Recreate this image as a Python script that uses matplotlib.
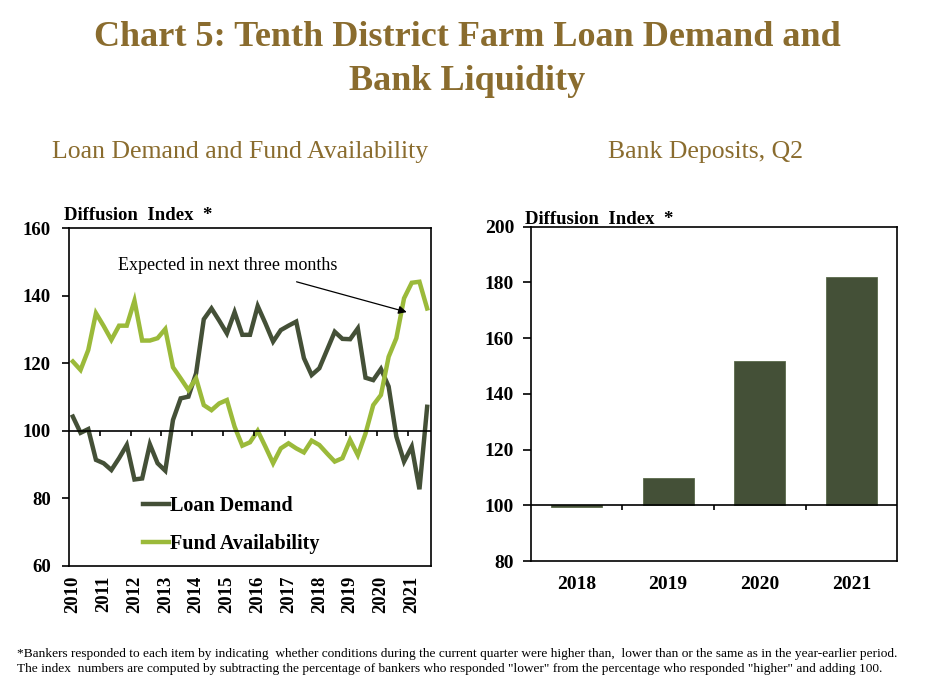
import numpy as np
import matplotlib
matplotlib.use("Agg")
import matplotlib.pyplot as plt
from matplotlib.lines import Line2D

plt.rcParams["font.family"] = ["Liberation Serif", "DejaVu Serif"]

# ── data ──────────────────────────────────────────────────────────────────────
QUARTERS = [f"{y}Q{q}" for y in range(2010, 2022) for q in (1, 2, 3, 4)][:47]   # 2010Q1..2021Q3 (last = expected)
YEAR_LABELS = [str(y) for y in range(2010, 2022)]

loan_demand = [104.2, 99.4, 100.5, 91.4, 90.4, 88.4, 91.9, 95.8, 85.6, 85.9,
               96.0, 90.4, 88.2, 103.2, 109.6, 110.1, 117.0, 133.0, 136.2, 132.6,
               128.8, 135.1, 128.4, 128.4, 136.9, 131.8, 126.4, 129.8, 131.1, 132.3,
               121.5, 116.5, 118.5, 123.9, 129.3, 127.2, 127.1, 130.3, 115.7, 115.0,
               118.3, 113.1, 98.3, 90.9, 95.3, 82.7, 107.1]
fund_avail = [120.5, 118.0, 123.9, 134.8, 131.0, 126.9, 131.1, 131.1, 138.5, 126.7,
              126.7, 127.4, 130.1, 118.8, 115.5, 112.1, 115.5, 107.6, 106.1, 108.1,
              109.1, 101.2, 95.6, 96.6, 100.0, 95.3, 90.4, 94.8, 96.3, 94.8,
              93.6, 97.1, 95.8, 93.3, 90.9, 91.9, 97.3, 92.8, 99.2, 107.6,
              110.6, 121.9, 127.4, 139.2, 143.8, 144.1, 136.2]

dep_years = ["2018", "2019", "2020", "2021"]
dep_index = [99.5, 109.7, 151.7, 181.8]

DARK = "#445037"
LIGHT = "#9BBA3A"
GOLD = "#8A6C2E"
W, H = 925, 693

fig = plt.figure(figsize=(W / 100, H / 100), dpi=100)


def fx(px):
    return px / W


def fy(py):
    return 1 - py / H


# ── titles ────────────────────────────────────────────────────────────────────
fig.text(fx(467), fy(38), "Chart 5: Tenth District Farm Loan Demand and", ha="center", va="center",
         fontsize=26, fontweight="bold", color=GOLD)
fig.text(fx(467), fy(82), "Bank Liquidity", ha="center", va="center",
         fontsize=26, fontweight="bold", color=GOLD)
fig.text(fx(240), fy(152), "Loan Demand and Fund Availability", ha="center", va="center",
         fontsize=18.5, color=GOLD)
fig.text(fx(705), fy(152), "Bank Deposits, Q2", ha="center", va="center",
         fontsize=18.5, color=GOLD)


def frame(ax, lw=1.2):
    for s in ax.spines.values():
        s.set_linewidth(lw)
        s.set_color("black")


# ── left: loan demand and fund availability ─────────────────────────────────────
ax = fig.add_axes([fx(69), fy(566), fx(431 - 69), (566 - 228) / H])
x = np.arange(len(QUARTERS))
ax.plot(x, loan_demand, color=DARK, lw=3.2, solid_joinstyle="miter")
ax.plot(x, fund_avail, color=LIGHT, lw=3.2, solid_joinstyle="miter")
ax.axhline(100, color="black", lw=1.2)
ax.vlines(np.arange(3.5, len(QUARTERS), 4), 98.4, 100, color="black", lw=1.2)
ax.set_xlim(-0.5, len(QUARTERS) - 0.5)
ax.set_ylim(60, 160)
ax.set_yticks(range(60, 161, 20))
ax.set_xticks(np.arange(0, len(QUARTERS), 4))
ax.set_xticklabels(YEAR_LABELS, rotation=90, fontsize=13.5, fontweight="bold")
ax.tick_params(axis="x", length=0, pad=7)
ax.tick_params(axis="y", direction="out", length=5, width=1.2, pad=8, labelsize=13.5)
for lab in ax.get_yticklabels():
    lab.set_fontweight("bold")
frame(ax)
ax.annotate("", xy=(43.7, 134.9), xytext=(28.7, 144.3),
            arrowprops=dict(arrowstyle="-|>", color="black", lw=0.9, mutation_scale=12))
ax.text(5.9, 149, "Expected in next three months", fontsize=13, va="center", ha="left")
handles = [Line2D([0], [0], color=DARK, lw=3.2), Line2D([0], [0], color=LIGHT, lw=3.2)]
ax.legend(handles, ["Loan Demand", "Fund Availability"], loc="lower left",
          bbox_to_anchor=(0.155, -0.018), frameon=False, handlelength=1.3, handletextpad=0.05,
          labelspacing=0.9, prop=dict(weight="bold", size=14.5))
fig.text(fx(64), fy(220), "Diffusion  Index  *", fontsize=13.5, fontweight="bold", va="baseline")

# ── right: bank deposits ────────────────────────────────────────────────────────
ax2 = fig.add_axes([fx(530.7), fy(561), fx(897.3 - 530.7), (561 - 226.7) / H])
xb = np.arange(len(dep_years))
ax2.bar(xb, np.array(dep_index) - 100, bottom=100, width=0.56, color=DARK,
        edgecolor="#5a6a4a", linewidth=0.6, zorder=2)
ax2.axhline(100, color="black", lw=1.2, zorder=3)
ax2.vlines(np.arange(0.5, len(dep_years) - 1, 1), 98.2, 100, color="black", lw=1.2, zorder=3)
ax2.set_xlim(-0.5, len(dep_years) - 0.5)
ax2.set_ylim(80, 200)
ax2.set_yticks(range(80, 201, 20))
ax2.set_xticks(xb)
ax2.set_xticklabels(dep_years, fontsize=14, fontweight="bold")
ax2.tick_params(axis="x", length=0, pad=11)
ax2.tick_params(axis="y", direction="out", length=6, width=1.2, pad=6, labelsize=14)
for lab in ax2.get_yticklabels():
    lab.set_fontweight("bold")
frame(ax2)
fig.text(fx(525), fy(224), "Diffusion  Index  *", fontsize=13.5, fontweight="bold", va="baseline")

# ── footnote ──────────────────────────────────────────────────────────────────
fig.text(fx(17), fy(654),
         "*Bankers responded to each item by indicating  whether conditions during the current quarter were higher than,  "
         "lower than or the same as in the year-earlier period.",
         fontsize=9.6, va="center", ha="left")
fig.text(fx(17), fy(669),
         "The index  numbers are computed by subtracting the percentage of bankers who responded \"lower\" from the "
         "percentage who responded \"higher\" and adding 100.",
         fontsize=9.6, va="center", ha="left")

fig.savefig("out.png", dpi=100)
